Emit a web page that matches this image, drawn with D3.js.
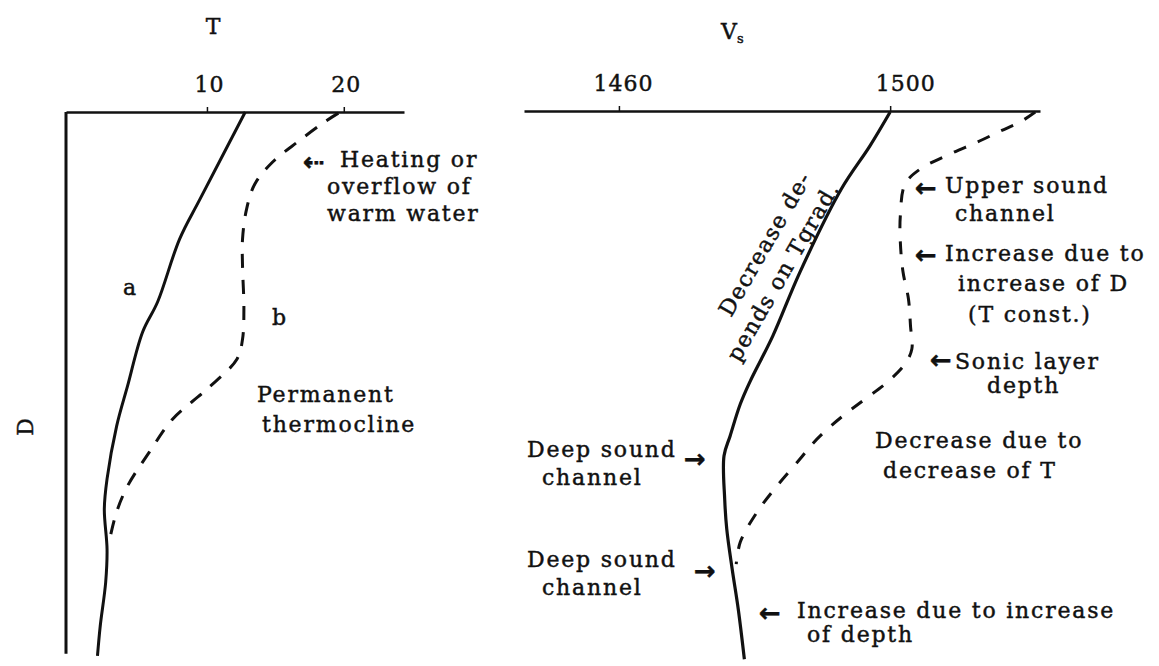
<!DOCTYPE html>
<html>
<head>
<meta charset="utf-8">
<script src="https://cdn.jsdelivr.net/npm/d3@7"></script>
<style>
  body { margin: 0; background: #fff; }
  svg text { font-family: "DejaVu Serif", serif; fill: #111; stroke: #111; stroke-width: 0.45px; }
</style>
</head>
<body>
<div id="chart"></div>
<script>
// Temperature (left) and sound speed (right) against depth

// left panel: temperature T
const tTicks = [10, 20];
const depthA = [0, 15.8, 23.1, 34.5, 40, 49.8, 57.1, 66.7, 72.2, 79.5, 85.5, 93.5, 98.9];
const tempA  = [12.8, 9.5, 8.0, 6.4, 5.3, 4.2, 3.4, 2.7, 2.5, 2.7, 2.6, 2.2, 2.0];
const depthB = [0.2, 1.8, 5.3, 9.1, 13.1, 17.6, 23.1, 28, 35.8, 41.3, 44.9, 50.4, 55.8, 61.8, 68, 72.7, 77.6];
const tempB  = [19.6, 18.6, 16.7, 14.8, 13.5, 12.9, 12.6, 12.6, 12.7, 12.6, 12.2, 10.0, 7.5, 5.8, 4.2, 3.4, 2.9];

// right panel: sound speed Vs
const vTicks = [1460, 1500];
const depthS = [0, 6.2, 14, 29.1, 40.7, 49.1, 53.1, 58.9, 62.5, 70.4, 75.8, 83.1, 90.4, 99.5];
const speedS = [1500.0, 1497.0, 1492.8, 1486.7, 1482.7, 1479.3, 1477.9, 1476.4, 1475.5, 1475.6, 1475.9, 1476.7, 1477.6, 1478.5];
const depthW = [0, 1.8, 3.5, 5.5, 7.6, 10.4, 13.1, 18.9, 23.6, 29.1, 34, 38.9, 43.1, 45.8, 49.1, 52.2, 54.9, 57.6, 60.4, 63.1, 68, 72.7, 78.2, 82.2];
const speedW = [1521.4, 1519.2, 1516.2, 1512.8, 1508.9, 1504.4, 1502.2, 1501.5, 1501.5, 1501.9, 1502.7, 1503.0, 1503.2, 1502.2, 1499.6, 1496.3, 1493.4, 1490.8, 1488.5, 1486.7, 1483.3, 1480.4, 1477.9, 1477.3];

const width = 1159, height = 666;

const svg = d3.select("#chart").append("svg")
    .attr("width", width)
    .attr("height", height);

svg.append("rect").attr("width", width).attr("height", height).attr("fill", "#fff");

// scales
const yD = d3.scaleLinear().domain([0, 100]).range([112, 662]);
const xT = d3.scaleLinear().domain([-0.3, 24.4]).range([66, 404]);
const xV = d3.scaleLinear().domain([1446, 1522.1]).range([524, 1040]);

function styleAxis(g, dx) {
    g.select(".domain").attr("stroke", "#111").attr("stroke-width", 2.6);
    g.selectAll(".tick line").attr("stroke", "#111").attr("stroke-width", 1.5);
    g.selectAll(".tick text")
        .attr("dx", dx)
        .style("font-family", "DejaVu Serif")
        .style("font-size", "22px")
        .style("letter-spacing", "1px")
        .style("fill", "#111");
}

// T axis on top
svg.append("g")
    .attr("transform", `translate(0,${yD(0)})`)
    .call(d3.axisTop(xT).tickValues(tTicks).tickSize(5).tickSizeOuter(0).tickPadding(15))
    .call(g => styleAxis(g, 2));

// D axis (left vertical line)
svg.append("line")
    .attr("x1", xT(-0.3)).attr("x2", xT(-0.3))
    .attr("y1", yD(0)).attr("y2", yD(98.5))
    .attr("stroke", "#111").attr("stroke-width", 3);

// Vs axis on top (labels sit a little right of their ticks)
svg.append("g")
    .attr("transform", `translate(0,${yD(0) - 1})`)
    .call(d3.axisTop(xV).tickValues(vTicks).tickFormat(d3.format("d")).tickSize(5).tickSizeOuter(0).tickPadding(15))
    .call(g => styleAxis(g, (d, i) => i === 0 ? 4 : 15));

const lineT = d3.line()
    .x(d => xT(d[0]))
    .y(d => yD(d[1]))
    .curve(d3.curveCatmullRom.alpha(0.5));

const lineV = d3.line()
    .x(d => xV(d[0]))
    .y(d => yD(d[1]))
    .curve(d3.curveCatmullRom.alpha(0.5));

// curve a (solid) and b (dashed)
svg.append("path")
    .datum(d3.zip(tempA, depthA))
    .attr("d", lineT)
    .attr("fill", "none").attr("stroke", "#111").attr("stroke-width", 3);

svg.append("path")
    .datum(d3.zip(tempB, depthB))
    .attr("d", lineT)
    .attr("fill", "none").attr("stroke", "#111").attr("stroke-width", 3)
    .attr("stroke-dasharray", "14,12");

// sound speed curves
svg.append("path")
    .datum(d3.zip(speedS, depthS))
    .attr("d", lineV)
    .attr("fill", "none").attr("stroke", "#111").attr("stroke-width", 3.2);

svg.append("path")
    .datum(d3.zip(speedW, depthW))
    .attr("d", lineV)
    .attr("fill", "none").attr("stroke", "#111").attr("stroke-width", 3)
    .attr("stroke-dasharray", "13,13");

// axis titles
svg.append("text")
    .attr("x", 213).attr("y", 34)
    .attr("text-anchor", "middle")
    .style("font-size", "22px")
    .text("T");

const vs = svg.append("text")
    .attr("x", 721).attr("y", 39)
    .style("font-size", "22px");
vs.append("tspan").text("V");
vs.append("tspan").attr("dy", 4).style("font-size", "13px").text("s");

svg.append("text")
    .attr("transform", "translate(33,427) rotate(-90)")
    .attr("text-anchor", "middle")
    .style("font-size", "22px")
    .text("D");

// annotations
const notes = [
    {x: 123, y: 295, t: "a"},
    {x: 272, y: 325, t: "b"},
    {x: 340, y: 167, t: "Heating or"},
    {x: 327, y: 194, t: "overflow of"},
    {x: 327, y: 221, t: "warm water"},
    {x: 257, y: 402, t: "Permanent"},
    {x: 262, y: 432, t: "thermocline"},
    {x: 945, y: 193, t: "Upper sound"},
    {x: 955, y: 221, t: "channel"},
    {x: 945, y: 261, t: "Increase due to"},
    {x: 958, y: 291, t: "increase of D"},
    {x: 968, y: 322, t: "(T const.)"},
    {x: 955, y: 369, t: "Sonic layer"},
    {x: 987, y: 393, t: "depth"},
    {x: 875, y: 448, t: "Decrease due to"},
    {x: 883, y: 478, t: "decrease of T"},
    {x: 527, y: 457, t: "Deep sound"},
    {x: 542, y: 485, t: "channel"},
    {x: 527, y: 567, t: "Deep sound"},
    {x: 542, y: 595, t: "channel"},
    {x: 797, y: 618, t: "Increase due to increase"},
    {x: 807, y: 642, t: "of depth"}
];

svg.selectAll(".note")
    .data(notes)
    .enter()
    .append("text")
    .attr("class", "note")
    .attr("x", d => d.x)
    .attr("y", d => d.y)
    .style("font-size", "22px")
    .style("letter-spacing", "1.8px")
    .text(d => d.t);

// rotated note along the solid Vs curve
const slanted = [
    {x: 731, y: 318, t: "Decrease de-"},
    {x: 739, y: 363, t: "pends on Tgrad."}
];
svg.selectAll(".slant")
    .data(slanted)
    .enter()
    .append("text")
    .attr("class", "slant")
    .attr("transform", d => `translate(${d.x},${d.y}) rotate(-60)`)
    .style("font-size", "22px")
    .style("letter-spacing", "1.4px")
    .text(d => d.t);

// arrows
const arrows = [
    {x: 303, y: 171, t: "\u21E0"},
    {x: 915, y: 197, t: "\u2190"},
    {x: 915, y: 264, t: "\u2190"},
    {x: 930, y: 369, t: "\u2190"},
    {x: 684, y: 468, t: "\u2192"},
    {x: 694, y: 580, t: "\u2192"},
    {x: 759, y: 622, t: "\u2190"}
];
svg.selectAll(".arrow")
    .data(arrows)
    .enter()
    .append("text")
    .attr("class", "arrow")
    .attr("x", d => d.x)
    .attr("y", d => d.y)
    .style("font-family", "DejaVu Sans")
    .style("font-size", "26px")
    .style("font-weight", "bold")
    .text(d => d.t);
</script>
</body>
</html>
